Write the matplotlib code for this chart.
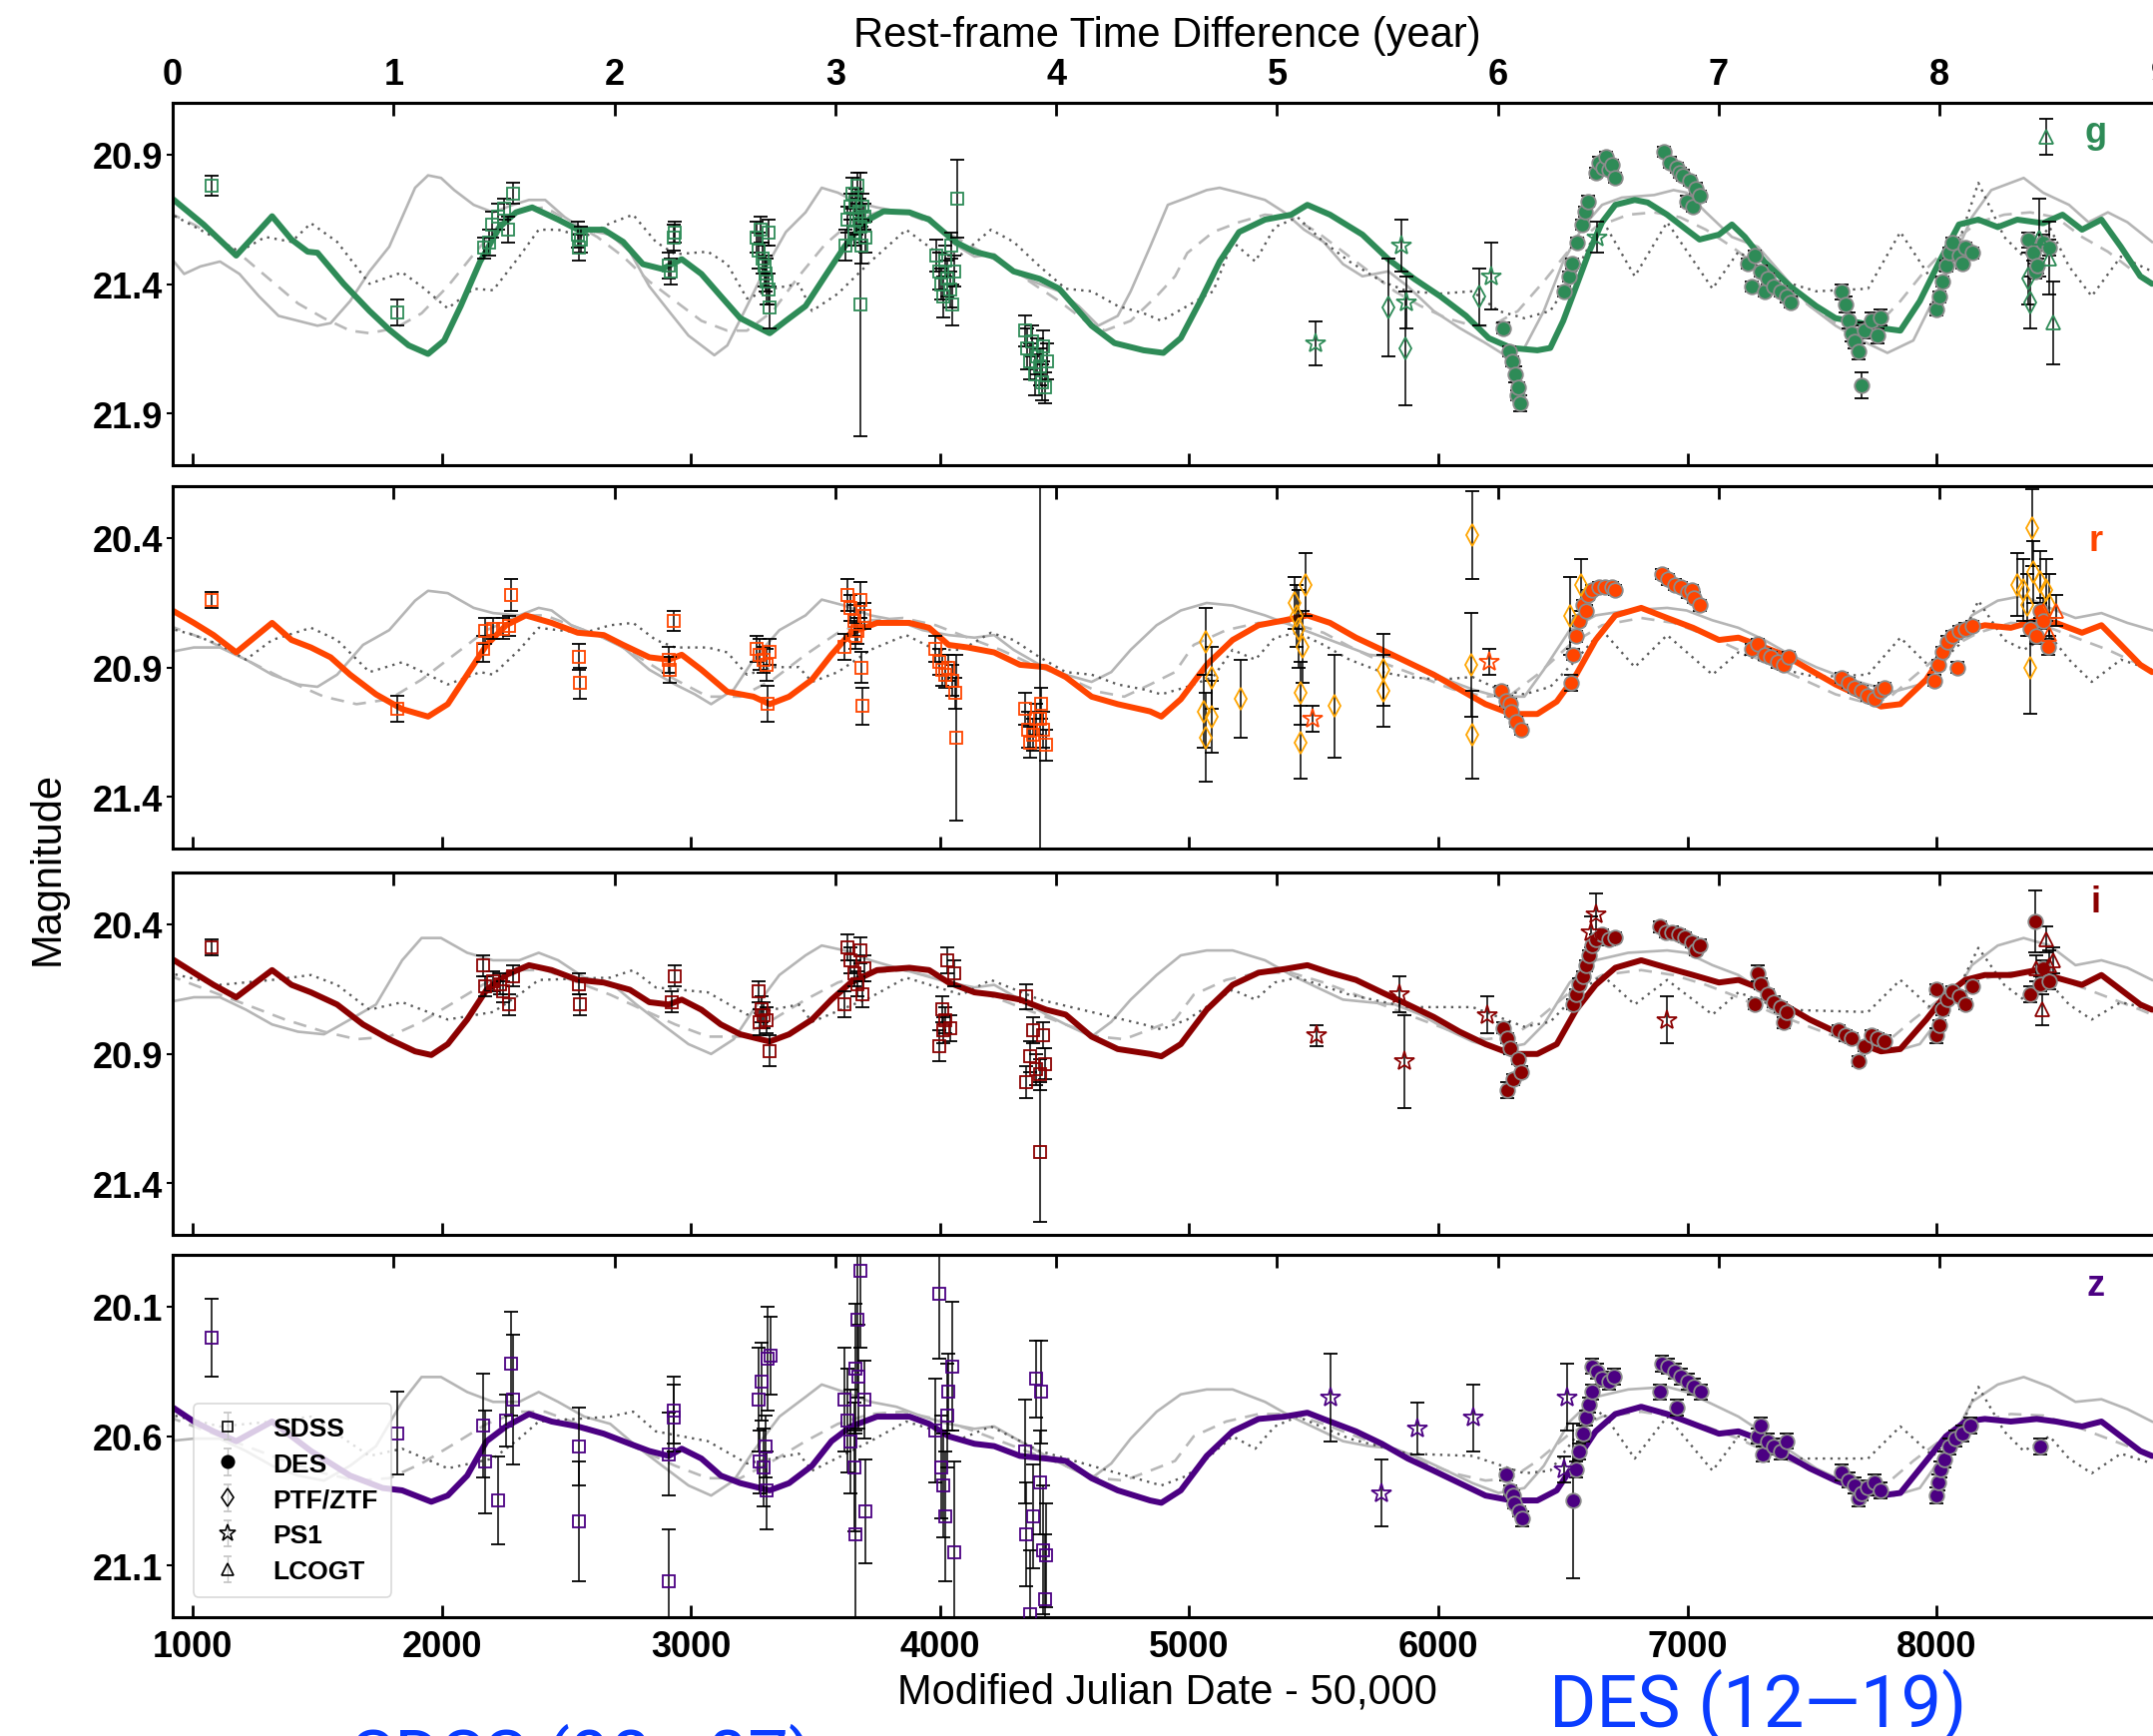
import numpy as np
import matplotlib
matplotlib.use("Agg")
import matplotlib.pyplot as plt

plt.rcParams['font.family'] = ['Liberation Sans', 'DejaVu Sans']

W, H, DPI = 2157, 1740, 100

MJD0 = 920.0        # MJD-50000 at rest-frame year zero
REST_YEAR = 886.5   # observed-frame days per rest-frame year

# ---------------------------------------------------------------- g band
g_lc = [(901,21.056),(1044,21.170),(1175,21.290),(1319,21.138),(1397,21.228),(1462,21.275),(1501,21.279),
        (1606,21.399),(1710,21.504),(1789,21.576),(1867,21.637),(1945,21.670),(2010,21.618),(2076,21.485),
        (2154,21.313),(2232,21.180),(2298,21.123),(2363,21.104),(2467,21.151),(2546,21.190),(2650,21.190),
        (2728,21.237),(2807,21.323),(2885,21.342),(2963,21.304),(3042,21.361),(3120,21.447),(3198,21.532),
        (3316,21.590),(3381,21.542),(3460,21.485),(3538,21.370),(3616,21.256),(3695,21.161),(3773,21.119),
        (3877,21.123),(3956,21.151),(4060,21.237),(4138,21.275),(4217,21.294),(4295,21.351),(4400,21.380),
        (4478,21.418),(4556,21.504),(4608,21.561),(4700,21.628),(4817,21.656),(4896,21.666),(4966,21.609),
        (5044,21.466),(5122,21.313),(5200,21.199),(5304,21.151),(5409,21.132),(5474,21.094),(5565,21.132),
        (5695,21.209),(5799,21.304),(5903,21.380),(6007,21.447),(6111,21.523),(6202,21.609),(6293,21.647),
        (6397,21.656),(6449,21.647),(6501,21.542),(6553,21.409),(6605,21.275),(6657,21.161),(6710,21.094),
        (6788,21.075),(6840,21.085),(6918,21.132),(6996,21.190),(7048,21.228),(7126,21.209),(7178,21.170),
        (7230,21.218),(7308,21.313),(7412,21.409),(7516,21.485),(7594,21.532),(7698,21.551),(7776,21.570),
        (7854,21.580),(7932,21.466),(8011,21.313),(8089,21.170),(8167,21.151),(8245,21.180),(8323,21.151),
        (8427,21.165),(8505,21.132),(8583,21.190),(8661,21.151),(8739,21.256),(8817,21.370),(8864,21.399)]
g_solid = [(901,21.285),(966,21.361),(1031,21.332),(1110,21.313),(1188,21.361),(1266,21.447),(1345,21.523),
           (1423,21.542),(1501,21.561),(1554,21.551),(1632,21.466),(1710,21.351),(1789,21.256),(1841,21.142),
           (1893,21.028),(1945,20.980),(1997,20.990),(2050,21.037),(2128,21.094),(2206,21.123),(2285,21.094),
           (2350,21.075),(2415,21.075),(2494,21.142),(2572,21.190),(2676,21.209),(2755,21.275),(2833,21.409),
           (2911,21.504),(2990,21.599),(3094,21.675),(3146,21.637),(3225,21.485),(3303,21.332),(3381,21.199),
           (3460,21.123),(3525,21.028),(3590,21.047),(3668,21.085),(3747,21.104),(3851,21.123),(3956,21.142),
           (4060,21.247),(4138,21.294),(4217,21.285),(4295,21.351),(4373,21.390),(4478,21.428),(4556,21.485),
           (4635,21.561),(4713,21.523),(4765,21.428),(4843,21.256),(4914,21.094),(4992,21.066),(5070,21.037),
           (5122,21.028),(5200,21.047),(5304,21.075),(5382,21.123),(5461,21.190),(5539,21.237),(5617,21.323),
           (5695,21.370),(5799,21.351),(5877,21.409),(5981,21.504),(6085,21.570),(6189,21.628),(6267,21.675),
           (6345,21.647),(6423,21.504),(6501,21.313),(6579,21.180),(6657,21.094),(6736,21.066),(6866,21.056),
           (6944,21.037),(6996,21.047),(7074,21.123),(7178,21.218),(7282,21.256),(7386,21.370),(7490,21.485),
           (7594,21.561),(7698,21.618),(7802,21.666),(7906,21.618),(7984,21.466),(8063,21.313),(8141,21.142),
           (8219,21.037),(8349,20.990),(8427,21.047),(8531,21.094),(8609,21.161),(8687,21.123),(8765,21.161),
           (8864,21.237)]
g_dash = [(901,21.123),(1005,21.170),(1110,21.228),(1214,21.304),(1319,21.390),(1423,21.475),(1527,21.532),
          (1632,21.580),(1710,21.590),(1815,21.570),(1919,21.513),(2024,21.409),(2128,21.285),(2232,21.170),
          (2311,21.113),(2415,21.104),(2520,21.161),(2624,21.218),(2728,21.294),(2833,21.390),(2937,21.466),
          (3042,21.542),(3146,21.580),(3225,21.580),(3329,21.504),(3433,21.370),(3538,21.247),(3642,21.161),
          (3747,21.123),(3851,21.123),(3956,21.161),(4060,21.218),(4164,21.275),(4269,21.332),(4373,21.399),
          (4478,21.466),(4582,21.542),(4661,21.580),(4765,21.542),(4869,21.447),(4943,21.370),(4992,21.280),
          (5096,21.199),(5200,21.161),(5304,21.132),(5409,21.142),(5513,21.199),(5617,21.275),(5721,21.351),
          (5825,21.428),(5929,21.485),(6033,21.532),(6137,21.561),(6215,21.561),(6319,21.504),(6423,21.390),
          (6527,21.266),(6631,21.180),(6762,21.132),(6866,21.123),(6970,21.142),(7074,21.190),(7178,21.256),
          (7282,21.332),(7386,21.409),(7490,21.485),(7594,21.551),(7672,21.580),(7750,21.570),(7854,21.466),
          (7958,21.342),(8063,21.237),(8167,21.161),(8271,21.132),(8375,21.123),(8479,21.142),(8583,21.218),
          (8687,21.275),(8791,21.351),(8864,21.390)]
g_dot = [(901,21.123),(1084,21.218),(1188,21.275),(1292,21.218),(1397,21.237),(1475,21.165),(1580,21.237),
         (1710,21.399),(1841,21.355),(1919,21.409),(2024,21.494),(2128,21.418),(2206,21.424),(2311,21.294),
         (2389,21.190),(2467,21.190),(2572,21.218),(2676,21.165),(2768,21.132),(2859,21.237),(2937,21.285),
         (3068,21.275),(3146,21.323),(3225,21.456),(3329,21.418),(3433,21.399),(3486,21.504),(3590,21.437),
         (3721,21.313),(3864,21.190),(3982,21.275),(4086,21.285),(4204,21.190),(4295,21.237),(4400,21.332),
         (4504,21.418),(4608,21.428),(4713,21.485),(4817,21.513),(4888,21.542),(4992,21.485),(5096,21.428),
         (5174,21.237),(5265,21.313),(5343,21.180),(5435,21.142),(5539,21.237),(5643,21.313),(5773,21.390),
         (5877,21.428),(6007,21.437),(6137,21.428),(6241,21.504),(6345,21.532),(6449,21.504),(6553,21.351),
         (6657,21.151),(6788,21.370),(6918,21.161),(7100,21.418),(7204,21.275),(7386,21.390),(7516,21.428),
         (7724,21.418),(7854,21.199),(7984,21.390),(8089,21.237),(8167,21.009),(8271,21.218),(8349,21.294),
         (8453,21.180),(8531,21.332),(8622,21.447),(8739,21.294),(8864,21.351)]

g_sdss = [(1078,21.02,0.04),(1820,21.51,0.05),
          (2170,21.26,0.04),(2190,21.24,0.05),(2200,21.17,0.05),(2225,21.14,0.05),(2250,21.11,0.04),
          (2265,21.19,0.05),(2285,21.05,0.04),
          (2545,21.21,0.05),(2552,21.26,0.05),(2558,21.23,0.05),
          (2911,21.33,0.05),(2920,21.35,0.05),(2930,21.22,0.05),(2937,21.20,0.04),
          (3265,21.22,0.06),(3272,21.27,0.07),(3280,21.19,0.05),(3288,21.30,0.06),(3295,21.33,0.08),
          (3300,21.36,0.07),(3305,21.39,0.09),(3310,21.42,0.06),(3316,21.49,0.08),(3312,21.20,0.05),
          (3620,21.25,0.06),(3630,21.15,0.05),(3640,21.10,0.05),(3648,21.05,0.06),(3655,21.20,0.05),
          (3660,21.08,0.05),(3665,21.15,0.06),(3670,21.02,0.05),(3675,21.12,0.05),(3680,21.18,0.06),
          (3685,21.25,0.07),(3690,21.10,0.05),(3695,21.14,0.05),(3700,21.22,0.06),(3681,21.48,0.51),
          (3985,21.29,0.06),(3995,21.35,0.07),(4005,21.40,0.06),(4012,21.45,0.08),(4020,21.31,0.06),
          (4030,21.38,0.07),(4040,21.42,0.07),(4045,21.25,0.05),(4050,21.48,0.08),(4058,21.35,0.06),
          (4068,21.07,0.15),
          (4340,21.58,0.06),(4350,21.65,0.08),(4360,21.70,0.07),(4370,21.62,0.06),(4380,21.75,0.08),
          (4390,21.68,0.07),(4400,21.72,0.07),(4410,21.78,0.07),(4415,21.64,0.06),(4420,21.80,0.06),
          (4428,21.70,0.07)]
g_des = [(6259,21.57,0.02),(6285,21.66,0.02),(6295,21.70,0.02),(6310,21.75,0.03),(6318,21.83,0.02),
         (6320,21.80,0.02),(6330,21.86,0.03),
         (6505,21.43,0.02),(6523,21.37,0.02),(6536,21.32,0.02),(6557,21.24,0.02),(6575,21.17,0.02),
         (6588,21.12,0.02),(6601,21.08,0.02),(6631,20.97,0.02),(6645,20.93,0.02),(6660,20.95,0.02),
         (6672,20.91,0.02),(6685,20.96,0.02),(6698,20.94,0.02),(6710,20.99,0.02),
         (6905,20.89,0.02),(6931,20.93,0.02),(6957,20.95,0.02),(6970,20.97,0.02),(6983,20.98,0.02),
         (6996,21.08,0.02),(7009,21.00,0.02),(7022,21.10,0.02),(7035,21.03,0.02),(7048,21.06,0.02),
         (7243,21.32,0.02),(7256,21.41,0.02),(7269,21.29,0.02),(7295,21.35,0.02),(7308,21.43,0.02),
         (7321,21.38,0.02),(7347,21.41,0.02),(7373,21.43,0.02),(7399,21.45,0.02),(7412,21.47,0.02),
         (7620,21.43,0.03),(7633,21.48,0.03),(7646,21.54,0.03),(7659,21.59,0.03),(7672,21.62,0.03),
         (7685,21.66,0.03),(7698,21.79,0.05),(7711,21.58,0.03),(7737,21.54,0.03),(7763,21.60,0.03),
         (7776,21.53,0.03),
         (7997,21.50,0.02),(8011,21.45,0.02),(8024,21.39,0.02),(8037,21.33,0.02),(8050,21.28,0.02),
         (8063,21.24,0.02),(8089,21.29,0.02),(8102,21.32,0.02),(8115,21.26,0.02),(8141,21.28,0.02),
         (8369,21.23,0.03),(8388,21.28,0.03),(8396,21.35,0.03),(8404,21.33,0.03),(8427,21.24,0.03),
         (8453,21.26,0.03)]
g_ptf = [(5799,21.49,0.19),(5866,21.65,0.22),(6163,21.45,0.11),(8369,21.38,0.10),(8375,21.47,0.10)]
g_ps1 = [(5507,21.63,0.085),(5851,21.25,0.10),(5872,21.47,0.10),(6210,21.37,0.13),(6637,21.22,0.06)]
g_lco = [(8410,21.22,0.15),(8440,20.83,0.07),(8450,21.30,0.14),(8466,21.55,0.16)]

# ---------------------------------------------------------------- r band
r_lc = [(901,20.670),(1005,20.728),(1084,20.775),(1175,20.842),(1319,20.728),(1397,20.794),(1475,20.823),
        (1554,20.861),(1632,20.928),(1736,21.004),(1841,21.061),(1945,21.090),(2024,21.042),(2102,20.928),
        (2180,20.813),(2258,20.737),(2337,20.699),(2441,20.728),(2546,20.766),(2650,20.775),(2728,20.813),
        (2833,20.861),(2911,20.870),(2963,20.851),(3042,20.909),(3146,20.994),(3251,21.013),(3316,21.042),
        (3394,21.013),(3486,20.947),(3564,20.851),(3642,20.766),(3747,20.728),(3877,20.728),(3956,20.747),
        (4034,20.813),(4112,20.823),(4217,20.842),(4321,20.890),(4426,20.899),(4504,20.937),(4608,21.013),
        (4713,21.042),(4843,21.070),(4888,21.090),(4966,21.023),(5070,20.890),(5174,20.794),(5278,20.737),
        (5382,20.718),(5474,20.699),(5565,20.728),(5669,20.785),(5773,20.832),(5877,20.880),(5981,20.928),
        (6085,20.985),(6189,21.042),(6293,21.080),(6397,21.080),(6475,21.032),(6553,20.928),(6631,20.794),
        (6710,20.699),(6814,20.670),(6918,20.709),(7022,20.747),(7126,20.794),(7204,20.785),(7282,20.813),
        (7386,20.851),(7490,20.909),(7594,20.966),(7698,21.013),(7776,21.051),(7854,21.042),(7958,20.947),
        (8037,20.832),(8115,20.756),(8193,20.737),(8297,20.747),(8401,20.718),(8479,20.728),(8583,20.766),
        (8661,20.737),(8739,20.813),(8817,20.890),(8864,20.918)]
r_solid = [(901,20.842),(1005,20.823),(1110,20.823),(1214,20.870),(1319,20.928),(1423,20.966),(1501,20.975),
           (1580,20.928),(1684,20.813),(1789,20.756),(1893,20.642),(1945,20.604),(2024,20.613),(2128,20.670),
           (2206,20.690),(2311,20.699),(2389,20.670),(2441,20.680),(2520,20.737),(2624,20.775),(2728,20.823),
           (2833,20.909),(2937,20.966),(3016,21.004),(3081,21.042),(3172,20.985),(3251,20.870),(3355,20.756),
           (3460,20.699),(3525,20.638),(3616,20.661),(3721,20.699),(3825,20.718),(3930,20.756),(4034,20.775),
           (4138,20.785),(4217,20.775),(4295,20.832),(4400,20.890),(4504,20.928),(4608,20.956),(4687,20.918),
           (4765,20.832),(4869,20.737),(4966,20.680),(5070,20.651),(5174,20.661),(5304,20.699),(5409,20.737),
           (5513,20.775),(5617,20.813),(5721,20.851),(5825,20.861),(5929,20.899),(6033,20.947),(6137,20.985),
           (6241,21.013),(6345,21.013),(6423,20.909),(6527,20.756),(6631,20.699),(6762,20.680),(6918,20.670),
           (6996,20.680),(7100,20.718),(7204,20.747),(7308,20.794),(7412,20.851),(7516,20.899),(7620,20.937),
           (7724,20.966),(7828,20.994),(7932,20.966),(8037,20.870),(8141,20.699),(8245,20.642),(8349,20.623),
           (8453,20.670),(8557,20.709),(8661,20.690),(8765,20.728),(8864,20.756)]
r_dash = [(901,20.737),(1057,20.794),(1214,20.870),(1371,20.947),(1527,21.013),(1658,21.042),(1789,21.023),
          (1919,20.947),(2050,20.851),(2180,20.756),(2311,20.699),(2415,20.699),(2546,20.747),(2676,20.794),
          (2807,20.870),(2937,20.947),(3068,21.013),(3198,21.013),(3329,20.947),(3460,20.851),(3590,20.766),
          (3721,20.718),(3851,20.709),(3982,20.737),(4112,20.785),(4243,20.832),(4373,20.890),(4504,20.937),
          (4635,20.994),(4739,21.013),(4843,20.966),(4943,20.918),(5018,20.813),(5148,20.756),(5278,20.728),
          (5409,20.728),(5539,20.766),(5669,20.832),(5799,20.890),(5929,20.937),(6059,20.985),(6189,21.013),
          (6293,21.004),(6397,20.928),(6527,20.813),(6657,20.737),(6814,20.709),(6944,20.728),(7074,20.775),
          (7204,20.832),(7334,20.890),(7464,20.947),(7594,21.004),(7698,21.032),(7802,21.023),(7906,20.937),
          (8037,20.832),(8167,20.766),(8297,20.728),(8427,20.737),(8557,20.785),(8687,20.832),(8817,20.890),
          (8864,20.909)]
r_dot = [(901,20.747),(1005,20.775),(1110,20.813),(1214,20.870),(1319,20.794),(1475,20.747),(1580,20.794),
         (1710,20.918),(1841,20.880),(1945,20.928),(2024,20.966),(2154,20.918),(2206,20.928),(2311,20.832),
         (2389,20.747),(2467,20.756),(2572,20.766),(2676,20.737),(2768,20.728),(2859,20.794),(2937,20.823),
         (3068,20.823),(3146,20.842),(3225,20.928),(3329,20.899),(3433,20.899),(3486,20.956),(3590,20.918),
         (3721,20.832),(3864,20.775),(3982,20.832),(4086,20.832),(4204,20.766),(4295,20.794),(4400,20.861),
         (4504,20.918),(4608,20.928),(4713,20.966),(4817,20.985),(4888,21.004),(4992,20.975),(5096,20.937),
         (5174,20.832),(5265,20.870),(5343,20.785),(5435,20.766),(5539,20.813),(5643,20.870),(5773,20.918),
         (5877,20.937),(6007,20.947),(6137,20.937),(6241,20.985),(6345,21.004),(6449,20.975),(6553,20.870),
         (6657,20.756),(6788,20.899),(6918,20.775),(7100,20.928),(7204,20.842),(7386,20.909),(7516,20.937),
         (7724,20.928),(7854,20.785),(7984,20.909),(8089,20.813),(8167,20.642),(8271,20.794),(8349,20.832),
         (8453,20.775),(8531,20.870),(8622,20.956),(8739,20.870),(8864,20.909)]

r_sdss = [(1078,20.64,0.03),(1820,21.06,0.05),
          (2167,20.83,0.05),(2175,20.76,0.05),(2206,20.75,0.04),(2245,20.75,0.04),(2271,20.74,0.04),
          (2279,20.62,0.06),
          (2551,20.86,0.05),(2556,20.96,0.06),
          (2911,20.87,0.05),(2916,20.91,0.05),(2932,20.72,0.04),
          (3264,20.83,0.05),(3277,20.85,0.06),(3290,20.87,0.05),(3303,20.89,0.06),(3316,20.84,0.05),
          (3308,21.04,0.07),
          (3616,20.82,0.05),(3629,20.62,0.06),(3642,20.67,0.05),(3655,20.72,0.06),(3662,20.78,0.05),
          (3668,20.76,0.05),(3681,20.64,0.07),(3686,20.90,0.06),(3690,21.05,0.07),(3695,20.70,0.05),
          (3982,20.83,0.05),(3995,20.88,0.05),(4008,20.91,0.06),(4021,20.93,0.05),(4034,20.90,0.05),
          (4047,20.95,0.06),(4060,21.00,0.06),(4065,21.17,0.32),
          (4342,21.06,0.06),(4352,21.14,0.07),(4360,21.19,0.06),(4373,21.16,0.06),(4386,21.10,0.06),
          (4400,21.10,0.95),(4405,21.04,0.06),(4413,21.14,0.07),(4426,21.20,0.06)]
r_des = [(6254,20.99,0.02),(6272,21.03,0.02),(6288,21.04,0.02),(6293,21.07,0.02),(6314,21.11,0.02),
         (6332,21.14,0.02),
         (6533,20.96,0.03),(6540,20.85,0.02),(6553,20.78,0.02),(6566,20.72,0.02),(6579,20.66,0.02),
         (6592,20.68,0.02),(6600,20.62,0.02),(6618,20.60,0.02),(6644,20.59,0.02),(6670,20.59,0.02),
         (6696,20.59,0.02),(6710,20.60,0.02),
         (6897,20.54,0.02),(6923,20.56,0.02),(6949,20.58,0.02),(6975,20.59,0.02),(7001,20.61,0.02),
         (7017,20.60,0.02),(7027,20.63,0.02),(7048,20.66,0.02),
         (7256,20.83,0.02),(7282,20.81,0.02),(7308,20.85,0.02),(7334,20.86,0.02),(7360,20.88,0.02),
         (7386,20.89,0.02),(7407,20.86,0.02),
         (7620,20.94,0.02),(7646,20.96,0.02),(7672,20.98,0.02),(7698,20.99,0.02),(7724,21.01,0.02),
         (7750,21.02,0.02),(7776,20.99,0.02),(7789,20.98,0.02),
         (7989,20.95,0.02),(8005,20.89,0.02),(8024,20.84,0.02),(8042,20.80,0.02),(8063,20.78,0.02),
         (8084,20.90,0.02),(8089,20.76,0.02),(8115,20.75,0.02),(8141,20.74,0.02),
         (8375,20.75,0.03),(8401,20.78,0.03),(8414,20.68,0.03),(8427,20.72,0.03),(8448,20.82,0.03)]
r_ptf = [(5057,21.07,0.14),(5065,20.80,0.13),(5065,21.17,0.17),(5091,20.94,0.12),(5091,21.09,0.14),
         (5206,21.02,0.15),
         (5422,20.65,0.10),(5430,20.70,0.12),(5440,20.75,0.15),(5447,21.00,0.12),(5447,21.19,0.14),
         (5455,20.82,0.14),(5466,20.58,0.12),
         (5585,21.05,0.20),(5778,20.91,0.14),(5778,20.99,0.14),(6132,20.89,0.20),(6137,20.39,0.17),
         (6137,21.16,0.17),(6527,20.70,0.15),(6574,20.58,0.10),
         (8323,20.58,0.12),(8349,20.60,0.12),(8362,20.66,0.12),(8375,20.90,0.18),(8383,20.36,0.15),
         (8388,20.53,0.12),(8414,20.57,0.12),(8440,20.60,0.12),(8453,20.66,0.12)]
r_ps1 = [(5494,21.10,0.05),(6202,20.88,0.05)]
r_lco = [(8427,20.68,0.05),(8453,20.77,0.06),(8479,20.68,0.06)]

# ---------------------------------------------------------------- i band
i_lc = [(901,20.524),(1005,20.587),(1084,20.634),(1175,20.682),(1319,20.577),(1397,20.634),(1475,20.663),
        (1580,20.710),(1684,20.787),(1789,20.844),(1893,20.891),(1958,20.905),(2024,20.863),(2102,20.768),
        (2180,20.653),(2258,20.596),(2350,20.558),(2441,20.577),(2546,20.615),(2650,20.625),(2755,20.653),
        (2833,20.701),(2911,20.710),(2963,20.691),(3042,20.730),(3120,20.787),(3198,20.825),(3316,20.853),
        (3394,20.825),(3486,20.768),(3564,20.691),(3642,20.625),(3747,20.577),(3877,20.568),(3956,20.577),
        (4034,20.625),(4138,20.663),(4217,20.672),(4321,20.691),(4426,20.730),(4504,20.749),(4608,20.834),
        (4713,20.882),(4843,20.901),(4888,20.910),(4966,20.863),(5070,20.730),(5174,20.634),(5278,20.587),
        (5382,20.573),(5474,20.558),(5565,20.587),(5669,20.615),(5773,20.663),(5877,20.710),(5981,20.758),
        (6085,20.815),(6189,20.863),(6293,20.901),(6397,20.901),(6475,20.863),(6553,20.730),(6631,20.634),
        (6710,20.568),(6814,20.539),(6918,20.568),(7022,20.596),(7126,20.625),(7204,20.615),(7282,20.644),
        (7386,20.710),(7490,20.768),(7594,20.815),(7698,20.863),(7776,20.891),(7854,20.882),(7958,20.768),
        (8037,20.672),(8115,20.615),(8193,20.596),(8297,20.596),(8401,20.577),(8479,20.606),(8583,20.634),
        (8661,20.596),(8739,20.653),(8817,20.710),(8864,20.730)]
i_solid = [(901,20.701),(1005,20.682),(1110,20.682),(1214,20.730),(1319,20.787),(1423,20.815),(1527,20.825),
           (1632,20.768),(1736,20.710),(1841,20.539),(1919,20.453),(1997,20.453),(2102,20.510),(2206,20.539),
           (2311,20.539),(2389,20.510),(2467,20.539),(2572,20.606),(2676,20.625),(2781,20.710),(2885,20.787),
           (2990,20.863),(3081,20.901),(3172,20.844),(3251,20.730),(3355,20.596),(3460,20.520),(3525,20.482),
           (3616,20.501),(3721,20.539),(3825,20.568),(3930,20.596),(4034,20.625),(4138,20.644),(4217,20.634),
           (4321,20.691),(4426,20.749),(4504,20.787),(4608,20.834),(4687,20.777),(4765,20.691),(4869,20.596),
           (4966,20.520),(5070,20.501),(5174,20.501),(5304,20.539),(5409,20.596),(5513,20.644),(5617,20.691),
           (5721,20.701),(5825,20.710),(5929,20.749),(6033,20.806),(6137,20.853),(6241,20.882),(6345,20.863),
           (6423,20.787),(6527,20.625),(6631,20.539),(6762,20.510),(6918,20.501),(6996,20.510),(7100,20.558),
           (7204,20.596),(7308,20.663),(7412,20.730),(7516,20.787),(7620,20.834),(7724,20.863),(7828,20.891),
           (7932,20.863),(8037,20.730),(8141,20.558),(8245,20.482),(8349,20.453),(8453,20.482),(8557,20.558),
           (8661,20.539),(8765,20.568),(8864,20.615)]
i_dash = [(901,20.596),(1057,20.653),(1214,20.710),(1371,20.768),(1527,20.815),(1658,20.844),(1789,20.834),
          (1919,20.777),(2050,20.701),(2180,20.625),(2311,20.577),(2415,20.577),(2546,20.625),(2676,20.672),
          (2807,20.730),(2937,20.787),(3068,20.834),(3198,20.834),(3329,20.768),(3460,20.691),(3590,20.625),
          (3721,20.587),(3851,20.577),(3982,20.606),(4112,20.644),(4243,20.691),(4373,20.739),(4504,20.787),
          (4635,20.834),(4739,20.844),(4843,20.806),(4943,20.768),(5018,20.672),(5148,20.615),(5278,20.587),
          (5409,20.587),(5539,20.625),(5669,20.672),(5799,20.720),(5929,20.768),(6059,20.815),(6189,20.844),
          (6293,20.834),(6397,20.768),(6527,20.663),(6657,20.596),(6814,20.577),(6944,20.596),(7074,20.634),
          (7204,20.682),(7334,20.739),(7464,20.787),(7594,20.834),(7698,20.863),(7802,20.853),(7906,20.768),
          (8037,20.672),(8167,20.615),(8297,20.587),(8427,20.592),(8557,20.634),(8687,20.682),(8817,20.730),
          (8864,20.749)]
i_dot = [(901,20.587),(1110,20.634),(1319,20.615),(1475,20.596),(1580,20.634),(1710,20.730),(1841,20.701),
         (2024,20.768),(2206,20.739),(2311,20.672),(2389,20.615),(2676,20.606),(2768,20.577),(2859,20.644),
         (3068,20.663),(3225,20.749),(3433,20.710),(3486,20.777),(3721,20.682),(3864,20.606),(4086,20.672),
         (4204,20.615),(4400,20.691),(4608,20.739),(4817,20.787),(4888,20.806),(4992,20.768),(5174,20.653),
         (5265,20.691),(5343,20.625),(5435,20.606),(5643,20.672),(5877,20.720),(6137,20.720),(6345,20.796),
         (6449,20.777),(6553,20.672),(6657,20.596),(6788,20.710),(6918,20.615),(7100,20.749),(7204,20.663),
         (7386,20.730),(7724,20.739),(7854,20.615),(7984,20.730),(8089,20.644),(8167,20.491),(8271,20.634),
         (8349,20.691),(8453,20.625),(8531,20.710),(8622,20.768),(8739,20.701),(8864,20.730)]

i_sdss = [(1078,20.49,0.03),
          (2167,20.56,0.04),(2175,20.64,0.04),(2206,20.62,0.04),(2232,20.63,0.04),(2245,20.66,0.04),
          (2271,20.71,0.04),(2285,20.60,0.04),
          (2551,20.63,0.04),(2556,20.71,0.04),
          (2924,20.70,0.04),(2937,20.60,0.04),
          (3272,20.66,0.04),(3277,20.78,0.05),(3282,20.73,0.05),(3293,20.75,0.05),(3303,20.77,0.05),
          (3316,20.89,0.06),
          (3616,20.71,0.05),(3629,20.49,0.05),(3642,20.54,0.05),(3655,20.59,0.05),(3668,20.63,0.05),
          (3681,20.50,0.05),(3689,20.67,0.05),(3695,20.57,0.05),
          (3995,20.87,0.06),(4008,20.73,0.05),(4013,20.81,0.05),(4021,20.77,0.05),(4029,20.54,0.05),
          (4039,20.80,0.05),(4055,20.59,0.05),
          (4347,20.68,0.05),(4347,21.01,0.06),(4360,20.91,0.06),(4373,20.81,0.05),(4386,20.96,0.06),
          (4400,20.98,0.06),(4400,21.28,0.27),(4413,20.83,0.05),(4421,20.94,0.06)]
i_des = [(6262,20.80,0.02),(6275,20.84,0.02),(6275,21.04,0.03),(6288,20.88,0.02),(6301,21.00,0.02),
         (6319,20.92,0.02),(6332,20.97,0.02),
         (6540,20.71,0.02),(6553,20.67,0.02),(6566,20.63,0.02),(6579,20.60,0.02),(6592,20.56,0.02),
         (6605,20.52,0.02),(6618,20.48,0.02),(6631,20.46,0.02),(6657,20.44,0.02),(6684,20.46,0.02),
         (6710,20.45,0.02),
         (6887,20.41,0.02),(6913,20.43,0.02),(6939,20.43,0.02),(6965,20.44,0.02),(6991,20.45,0.02),
         (7017,20.47,0.02),(7035,20.50,0.02),(7048,20.48,0.02),
         (7269,20.71,0.02),(7282,20.59,0.03),(7295,20.63,0.02),(7321,20.67,0.02),(7347,20.70,0.02),
         (7373,20.72,0.02),(7386,20.78,0.02),(7399,20.74,0.02),
         (7607,20.81,0.02),(7633,20.83,0.02),(7659,20.84,0.02),(7685,20.93,0.02),(7711,20.87,0.02),
         (7737,20.83,0.02),(7763,20.84,0.02),(7789,20.85,0.02),
         (7997,20.83,0.03),(7997,20.65,0.02),(8011,20.79,0.02),(8024,20.73,0.02),(8042,20.69,0.02),
         (8063,20.66,0.02),(8089,20.68,0.02),(8115,20.71,0.02),(8141,20.64,0.02),
         (8375,20.67,0.03),(8396,20.39,0.12),(8414,20.63,0.03),(8427,20.57,0.03),(8453,20.62,0.03)]
i_ps1 = [(5509,20.83,0.04),(5843,20.67,0.07),(5864,20.93,0.18),(6194,20.75,0.07),(6613,20.43,0.06),
         (6631,20.36,0.08),(6918,20.77,0.09)]
i_lco = [(8401,20.57,0.05),(8422,20.73,0.06),(8440,20.46,0.05),(8453,20.56,0.06),(8466,20.54,0.05)]

# ---------------------------------------------------------------- z band
z_lc = [(901,20.477),(1005,20.544),(1084,20.582),(1175,20.620),(1319,20.544),(1475,20.658),(1632,20.753),
        (1763,20.801),(1841,20.810),(1958,20.854),(2024,20.830),(2102,20.753),(2180,20.620),(2258,20.563),
        (2350,20.515),(2441,20.544),(2546,20.563),(2650,20.591),(2755,20.630),(2833,20.658),(2911,20.677),
        (2963,20.649),(3042,20.687),(3120,20.753),(3198,20.782),(3316,20.810),(3394,20.782),(3486,20.715),
        (3564,20.620),(3642,20.563),(3747,20.525),(3877,20.525),(3956,20.553),(4034,20.601),(4138,20.630),
        (4217,20.639),(4321,20.677),(4426,20.687),(4504,20.696),(4608,20.763),(4713,20.810),(4843,20.849),
        (4888,20.858),(4966,20.810),(5070,20.677),(5174,20.582),(5278,20.534),(5382,20.525),(5474,20.510),
        (5565,20.544),(5669,20.582),(5773,20.630),(5877,20.687),(5981,20.734),(6085,20.782),(6189,20.830),
        (6293,20.849),(6397,20.849),(6475,20.810),(6553,20.696),(6631,20.582),(6710,20.515),(6814,20.487),
        (6918,20.515),(7022,20.553),(7126,20.591),(7204,20.582),(7282,20.610),(7386,20.668),(7490,20.725),
        (7594,20.772),(7698,20.810),(7776,20.830),(7854,20.820),(7958,20.696),(8037,20.601),(8115,20.544),
        (8193,20.534),(8297,20.544),(8401,20.534),(8479,20.544),(8583,20.563),(8661,20.544),(8739,20.601),
        (8817,20.658),(8864,20.677)]
z_solid = [(901,20.620),(1005,20.610),(1110,20.610),(1214,20.658),(1319,20.715),(1423,20.753),(1527,20.772),
           (1632,20.715),(1736,20.639),(1841,20.468),(1919,20.372),(1997,20.372),(2102,20.430),(2206,20.468),
           (2311,20.468),(2389,20.430),(2467,20.468),(2572,20.525),(2676,20.553),(2781,20.639),(2885,20.715),
           (2990,20.791),(3081,20.830),(3172,20.772),(3251,20.658),(3355,20.525),(3460,20.449),(3525,20.401),
           (3616,20.430),(3721,20.468),(3825,20.487),(3930,20.525),(4034,20.553),(4138,20.572),(4217,20.563),
           (4321,20.620),(4426,20.677),(4504,20.715),(4608,20.763),(4687,20.706),(4765,20.610),(4869,20.506),
           (4966,20.439),(5070,20.420),(5174,20.420),(5304,20.468),(5409,20.525),(5513,20.572),(5617,20.620),
           (5721,20.639),(5825,20.649),(5929,20.687),(6033,20.734),(6137,20.782),(6241,20.820),(6345,20.801),
           (6423,20.715),(6527,20.544),(6631,20.449),(6762,20.420),(6918,20.410),(6996,20.430),(7100,20.477),
           (7204,20.525),(7308,20.591),(7412,20.658),(7516,20.725),(7620,20.772),(7724,20.801),(7828,20.830),
           (7932,20.801),(8037,20.658),(8141,20.468),(8245,20.401),(8349,20.372),(8453,20.410),(8557,20.468),
           (8661,20.458),(8765,20.496),(8864,20.544)]
z_dash = [(901,20.525),(1057,20.582),(1214,20.639),(1371,20.696),(1527,20.744),(1658,20.772),(1789,20.763),
          (1919,20.706),(2050,20.630),(2180,20.553),(2311,20.506),(2415,20.506),(2546,20.553),(2676,20.601),
          (2807,20.658),(2937,20.715),(3068,20.763),(3198,20.763),(3329,20.696),(3460,20.620),(3590,20.553),
          (3721,20.515),(3851,20.506),(3982,20.534),(4112,20.572),(4243,20.620),(4373,20.668),(4504,20.715),
          (4635,20.763),(4739,20.772),(4843,20.734),(4943,20.696),(5018,20.601),(5148,20.544),(5278,20.515),
          (5409,20.515),(5539,20.553),(5669,20.601),(5799,20.649),(5929,20.696),(6059,20.744),(6189,20.772),
          (6293,20.763),(6397,20.696),(6527,20.591),(6657,20.525),(6814,20.506),(6944,20.525),(7074,20.563),
          (7204,20.610),(7334,20.668),(7464,20.715),(7594,20.763),(7698,20.791),(7802,20.782),(7906,20.696),
          (8037,20.601),(8167,20.544),(8297,20.515),(8427,20.521),(8557,20.563),(8687,20.610),(8817,20.658),
          (8864,20.677)]
z_dot = [(901,20.515),(1110,20.563),(1319,20.544),(1475,20.525),(1710,20.677),(1841,20.649),(2024,20.725),
         (2206,20.687),(2311,20.610),(2389,20.544),(2676,20.525),(2768,20.506),(2859,20.582),(3068,20.620),
         (3225,20.706),(3433,20.668),(3486,20.734),(3721,20.620),(3864,20.544),(4086,20.610),(4204,20.563),
         (4400,20.658),(4608,20.715),(4817,20.772),(4888,20.791),(4992,20.753),(5174,20.601),(5265,20.649),
         (5343,20.563),(5435,20.525),(5643,20.610),(5877,20.668),(6137,20.677),(6345,20.744),(6449,20.734),
         (6553,20.601),(6657,20.506),(6788,20.687),(6918,20.525),(7100,20.734),(7204,20.601),(7386,20.687),
         (7724,20.687),(7854,20.563),(7984,20.677),(8089,20.582),(8167,20.410),(8271,20.582),(8349,20.658),
         (8453,20.601),(8531,20.687),(8622,20.744),(8739,20.668),(8864,20.706)]

z_sdss = [(1078,20.22,0.15),(1820,20.59,0.16),
          (2167,20.56,0.20),(2175,20.70,0.20),(2227,20.85,0.17),(2258,20.54,0.10),(2279,20.32,0.20),
          (2285,20.46,0.25),
          (2551,20.64,0.15),(2551,20.93,0.23),
          (2911,20.67,0.16),(2911,21.16,0.20),(2932,20.50,0.13),(2932,20.53,0.13),
          (3272,20.46,0.20),(3277,20.70,0.12),(3282,20.39,0.15),(3290,20.72,0.15),(3298,20.64,0.12),
          (3303,20.81,0.15),(3309,20.30,0.20),(3319,20.29,0.15),
          (3616,20.46,0.20),(3629,20.54,0.20),(3642,20.62,0.20),(3655,20.72,0.25),(3662,20.34,0.25),
          (3662,20.98,0.40),(3668,20.15,0.30),(3673,20.37,0.20),(3681,19.96,0.30),(3695,20.46,0.15),
          (3700,20.89,0.20),
          (3982,20.58,0.20),(3995,20.05,0.25),(4003,20.72,0.20),(4013,20.79,0.20),(4021,20.91,0.25),
          (4029,20.52,0.20),(4034,20.43,0.15),(4047,20.33,0.25),(4055,21.05,0.35),
          (4342,20.66,0.20),(4347,20.98,0.20),(4360,21.29,0.25),(4373,20.91,0.20),(4386,20.38,0.15),
          (4400,20.78,0.20),(4405,20.43,0.20),(4413,21.04,0.25),(4421,21.23,0.25),(4426,21.06,0.20)]
z_des = [(6272,20.75,0.02),(6288,20.81,0.02),(6301,20.83,0.02),(6306,20.86,0.02),(6324,20.89,0.02),
         (6335,20.92,0.03),
         (6540,20.85,0.30),(6553,20.73,0.03),(6566,20.66,0.03),(6579,20.59,0.03),(6592,20.53,0.03),
         (6605,20.48,0.03),(6618,20.43,0.03),(6618,20.33,0.03),(6637,20.35,0.03),(6657,20.38,0.03),
         (6684,20.39,0.03),(6704,20.37,0.03),
         (6887,20.43,0.03),(6897,20.32,0.03),(6923,20.33,0.03),(6949,20.35,0.03),(6957,20.49,0.03),
         (6975,20.37,0.03),(7001,20.39,0.03),(7027,20.41,0.03),(7053,20.43,0.03),
         (7282,20.60,0.03),(7295,20.56,0.03),(7303,20.67,0.03),(7321,20.62,0.03),(7347,20.64,0.03),
         (7373,20.66,0.03),(7399,20.62,0.03),
         (7620,20.74,0.03),(7646,20.77,0.03),(7672,20.79,0.03),(7685,20.84,0.03),(7698,20.82,0.03),
         (7724,20.80,0.03),(7750,20.78,0.03),(7776,20.81,0.03),
         (7997,20.83,0.03),(8005,20.78,0.03),(8016,20.73,0.03),(8032,20.69,0.03),(8050,20.64,0.03),
         (8076,20.61,0.03),(8102,20.59,0.03),(8136,20.56,0.03),
         (8414,20.64,0.03)]
z_ps1 = [(5565,20.45,0.17),(5773,20.82,0.13),(5916,20.57,0.10),(6140,20.53,0.13),(6505,20.73,0.05),
         (6516,20.45,0.13)]

# ---------------------------------------------------------------- panel setup
bands = ['g', 'r', 'i', 'z']
band_colors = {'g': '#2e8b57', 'r': '#ff4500', 'i': '#8b0000', 'z': '#4b0082'}
ptf_colors = {'g': '#2e8b57', 'r': '#ffa500', 'i': '#8b0000', 'z': '#4b0082'}
y_limits = {'g': (22.10, 20.70), 'r': (21.60, 20.20), 'i': (21.60, 20.20), 'z': (21.30, 19.90)}
y_ticks = {'g': [20.9, 21.4, 21.9], 'r': [20.4, 20.9, 21.4], 'i': [20.4, 20.9, 21.4], 'z': [20.1, 20.6, 21.1]}
label_y = {'g': 0.92, 'r': 0.85, 'i': 0.92, 'z': 0.917}

curves = {
    'g': (g_solid, g_dash, g_dot, g_lc),
    'r': (r_solid, r_dash, r_dot, r_lc),
    'i': (i_solid, i_dash, i_dot, i_lc),
    'z': (z_solid, z_dash, z_dot, z_lc),
}
points = {
    'g': {'SDSS': g_sdss, 'DES': g_des, 'PTF/ZTF': g_ptf, 'PS1': g_ps1, 'LCOGT': g_lco},
    'r': {'SDSS': r_sdss, 'DES': r_des, 'PTF/ZTF': r_ptf, 'PS1': r_ps1, 'LCOGT': r_lco},
    'i': {'SDSS': i_sdss, 'DES': i_des, 'PS1': i_ps1, 'LCOGT': i_lco},
    'z': {'SDSS': z_sdss, 'DES': z_des, 'PS1': z_ps1},
}
survey_marker = {'SDSS': ('s', 8.5), 'DES': ('o', 10.5), 'PTF/ZTF': ('d', 11), 'PS1': ('*', 15), 'LCOGT': ('^', 10)}
survey_order = ['SDSS', 'DES', 'PTF/ZTF', 'PS1', 'LCOGT']

panel_bottoms = [0.7316, 0.5109, 0.2885, 0.0684]
panel_h = 0.2086
left = 173 / W
width = (2165 - 173) / W

TICK_FS = 26
LABEL_FS = 30


def mjd_to_year(x):
    return (np.asarray(x) - MJD0) / REST_YEAR


def year_to_mjd(y):
    return np.asarray(y) * REST_YEAR + MJD0


def pairs(seq):
    a = np.array(seq, dtype=float)
    return a[:, 0], a[:, 1]


fig = plt.figure(figsize=(W / DPI, H / DPI), dpi=DPI)

axes = []
for k, b in enumerate(bands):
    ax = fig.add_axes([left, panel_bottoms[k], width, panel_h])
    axes.append(ax)
    col = band_colors[b]
    solid, dash, dot, lc = curves[b]

    t, m = pairs(solid)
    ax.plot(t, m, color='#b5b5b5', lw=1.9, zorder=1)
    t, m = pairs(dash)
    ax.plot(t, m, color='#b8b8b8', lw=1.9, ls=(0, (5, 3.5)), zorder=1)
    t, m = pairs(dot)
    ax.plot(t, m, color='#5a5a5a', lw=1.7, ls=(0, (1, 2.2)), zorder=1)
    t, m = pairs(lc)
    ax.plot(t, m, color=col, lw=4.3, solid_capstyle='round', zorder=2)

    for s in survey_order:
        pts = points[b].get(s)
        if not pts:
            continue
        arr = np.array(pts, dtype=float)
        mk, ms = survey_marker[s]
        if s == 'DES':
            face, edge = col, '#8c8c8c'
        elif s == 'PTF/ZTF':
            face, edge = 'none', ptf_colors[b]
        else:
            face, edge = 'none', col
        ax.errorbar(arr[:, 0], arr[:, 1], yerr=arr[:, 2], fmt=mk, ms=ms, mfc=face, mec=edge,
                    mew=1.3, ecolor='black', elinewidth=1.1, capsize=5, capthick=1.1, zorder=4)

    ax.set_xlim(MJD0, 8900)
    ax.set_ylim(*y_limits[b])
    ax.set_yticks(y_ticks[b])
    ax.set_yticklabels([f'{v:.1f}' for v in y_ticks[b]])
    ax.set_xticks([1000, 2000, 3000, 4000, 5000, 6000, 7000, 8000])
    ax.tick_params(axis='x', which='both', direction='in', length=9, width=2,
                   top=False, bottom=True, labelbottom=(b == 'z'), labelsize=TICK_FS, pad=9)
    ax.tick_params(axis='y', direction='out', length=4, width=1.5, labelsize=TICK_FS, pad=3)
    for sp in ax.spines.values():
        sp.set_linewidth(2.2)

    sec = ax.secondary_xaxis('top', functions=(mjd_to_year, year_to_mjd))
    sec.set_xticks(range(10))
    sec.tick_params(direction='in', length=9, width=2, labelsize=TICK_FS, pad=8,
                    labeltop=(b == 'g'))
    sec.spines['top'].set_linewidth(2.2)
    for lab in sec.get_xticklabels():
        lab.set_fontweight('bold')
    for lab in ax.get_xticklabels() + ax.get_yticklabels():
        lab.set_fontweight('bold')

    ax.text(0.967, label_y[b], b, transform=ax.transAxes, color=col, fontsize=26,
            fontweight='bold', ha='center', va='center')

# legend with black survey markers
zax = axes[-1]
handles = []
for s in survey_order:
    mk, ms = survey_marker[s]
    face = 'black' if s == 'DES' else 'none'
    h = zax.errorbar([np.nan], [np.nan], yerr=[0.1], fmt=mk, ms=ms * 0.85, mfc=face, mec='black',
                     mew=1.2, ecolor='#c4c4c4', elinewidth=1.0, capsize=3, label=s)
    handles.append(h)
leg = zax.legend(handles=handles, loc='lower left', bbox_to_anchor=(0.004, 0.02),
                 prop={'weight': 'bold', 'size': 19}, frameon=True, fancybox=True,
                 framealpha=0.8, edgecolor='#d0d0d0', labelspacing=0.45,
                 handletextpad=0.9, borderpad=0.5, handlelength=1.6)
leg.get_frame().set_linewidth(1.2)

fig.text(1169 / W, 1 - 36 / H, 'Rest-frame Time Difference (year)', ha='center', va='center',
         fontsize=LABEL_FS)
fig.text(1169 / W, 1 - 1696 / H, 'Modified Julian Date - 50,000', ha='center', va='center',
         fontsize=LABEL_FS)
fig.text(48 / W, 0.50, 'Magnitude', rotation=90, ha='center', va='center', fontsize=LABEL_FS)

# survey epoch annotations
fig.text(1552 / W, 1 - 1729 / H, 'DES (12\u201419)', color='#0a3cff', fontsize=52,
         family=['Roboto', 'DejaVu Sans'], fontweight=350, ha='left', va='baseline')
fig.text(352 / W, 1 - 1784 / H, 'SDSS (98\u201407)', color='#0a3cff', fontsize=52,
         family=['Roboto', 'DejaVu Sans'], fontweight=350, ha='left', va='baseline')

fig.savefig('out.png', dpi=DPI)
